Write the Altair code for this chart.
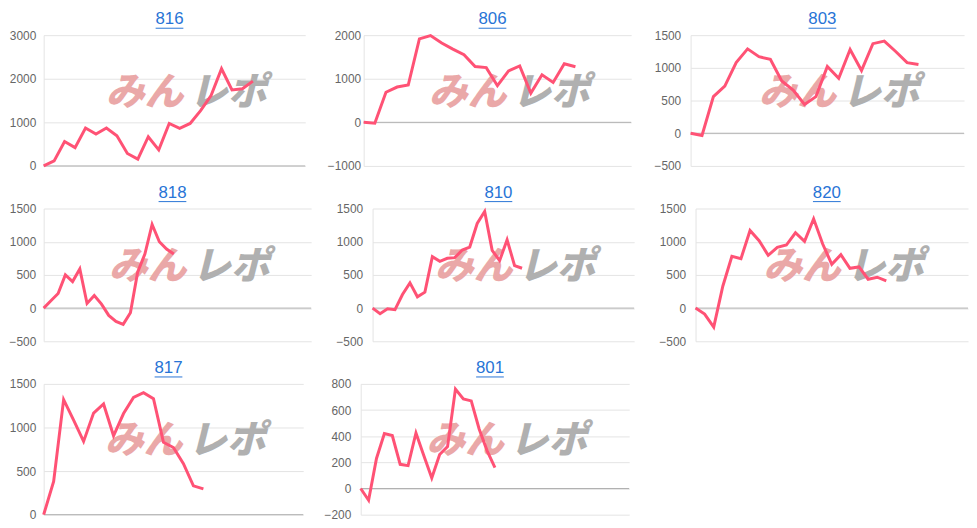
import altair as alt
import pandas as pd

# ---- data ----
names = ["816", "806", "803", "818", "810", "820", "817", "801"]

s816 = [0, 115, 560, 420, 870, 730, 870, 690, 285, 155, 670, 370, 975, 860, 975, 1270, 1615, 2230, 1745, 1770, 1945]
s806 = [0, -20, 690, 810, 855, 1915, 1990, 1820, 1680, 1550, 1280, 1255, 840, 1180, 1295, 670, 1090, 915, 1345, 1275]
s803 = [0, -35, 560, 720, 1080, 1290, 1170, 1130, 800, 660, 440, 560, 1020, 840, 1280, 960, 1370, 1410, 1250, 1080, 1050]
s818 = [0, 110, 220, 500, 400, 590, 70, 190, 60, -110, -200, -245, -70, 540, 815, 1260, 1000, 890, 815]
s810 = [0, -85, -10, -25, 205, 380, 170, 240, 775, 705, 750, 760, 875, 920, 1275, 1455, 870, 715, 1030, 640, 600]
s820 = [0, -90, -285, 330, 780, 745, 1170, 1015, 795, 915, 950, 1135, 1005, 1345, 965, 660, 805, 600, 620, 435, 465, 410]
s817 = [0, 380, 1320, 1085, 840, 1165, 1270, 905, 1160, 1345, 1400, 1330, 830, 770, 585, 330, 295]
s801 = [0, -90, 230, 420, 405, 185, 175, 425, 250, 80, 260, 320, 760, 685, 670, 455, 290, 160]

series = [s816, s806, s803, s818, s810, s820, s817, s801]
x_slots = [25, 24, 24, 37, 35, 30, 26, 34]
y_domains = [[0, 3000], [-1000, 2000], [-500, 1500],
             [-500, 1500], [-500, 1500], [-500, 1500],
             [0, 1500], [-200, 800]]
y_ticks = [[0, 1000, 2000, 3000], [-1000, 0, 1000, 2000], [-500, 0, 500, 1000, 1500],
           [-500, 0, 500, 1000, 1500], [-500, 0, 500, 1000, 1500], [-500, 0, 500, 1000, 1500],
           [0, 500, 1000, 1500], [-200, 0, 200, 400, 600, 800]]
watermark = ["みん", "レポ"]

# ---- styles / layout ----
LINE = "#ff5275"
BLUE = "#2874d6"
FONT = "Liberation Sans"
widths = [264, 270, 276, 270, 264, 275, 262, 271]
heights = [132, 132, 132, 134, 134, 134, 132, 132]
label_pads = [8, 3, 10, 8, 10, 10, 8, 10]


def panel(k):
    w, h = widths[k], heights[k]
    df = pd.DataFrame({"i": list(range(len(series[k]))), "v": series[k]})
    x = alt.X("i:Q", scale=alt.Scale(domain=[0, x_slots[k]], nice=False, zero=False), axis=None)
    y = alt.Y(
        "v:Q",
        scale=alt.Scale(domain=y_domains[k], nice=False, zero=False),
        axis=alt.Axis(
            values=y_ticks[k], format="d", grid=True, gridColor="#e4e4e4", domainColor="#e4e4e4",
            ticks=False, labelPadding=label_pads[k], labelFont=FONT, labelFontSize=12,
            labelColor="#666666", minExtent=35, maxExtent=35, title=None, labelOverlap=False,
        ),
    )
    cx = w / 2 + 12
    cy = h / 2 - 8
    wm1 = alt.Chart(pd.DataFrame({"t": [watermark[0]]})).mark_text(
        font="Noto Sans CJK JP", fontSize=39, fontWeight=900, fontStyle="italic",
        color="#eaa8a8", align="center", baseline="middle",
    ).encode(text="t:N", x=alt.value(cx - 42), y=alt.value(cy))
    wm2 = alt.Chart(pd.DataFrame({"t": [watermark[1]]})).mark_text(
        font="Noto Sans CJK JP", fontSize=39, fontWeight=900, fontStyle="italic",
        color="#b0b0b0", align="center", baseline="middle",
    ).encode(text="t:N", x=alt.value(cx + 42), y=alt.value(cy))
    zero = alt.Chart(pd.DataFrame({"v": [0]})).mark_rule(color="#b0b0b0", strokeWidth=1).encode(y=y)
    line = alt.Chart(df).mark_line(color=LINE, strokeWidth=3).encode(x=x, y=y)
    tx = w / 2 - 5
    title = alt.Chart(pd.DataFrame({"t": [names[k]]})).mark_text(
        font=FONT, fontSize=17, color=BLUE, align="center", baseline="middle"
    ).encode(text="t:N", x=alt.value(tx), y=alt.value(-16))
    ul = alt.Chart(pd.DataFrame({"t": [names[k]]})).mark_rule(color=BLUE, strokeWidth=1).encode(
        x=alt.value(tx - 14), x2=alt.value(tx + 14), y=alt.value(-7)
    )
    return alt.layer(wm1, wm2, zero, line, title, ul).properties(width=w, height=h)


row1 = alt.hconcat(panel(0), panel(1), panel(2), spacing=21)
row2 = alt.hconcat(panel(3), panel(4), panel(5), spacing=23)
row3 = alt.hconcat(panel(6), panel(7), spacing=19)

chart = (
    alt.vconcat(row1, row2, row3, spacing=12)
    .properties(padding=0)
    .configure_view(stroke=None)
    .configure_axis(labelOverlap=False, labelFlush=False)
)

chart.save("out.html", embed_options={"renderer": "svg", "actions": False})
